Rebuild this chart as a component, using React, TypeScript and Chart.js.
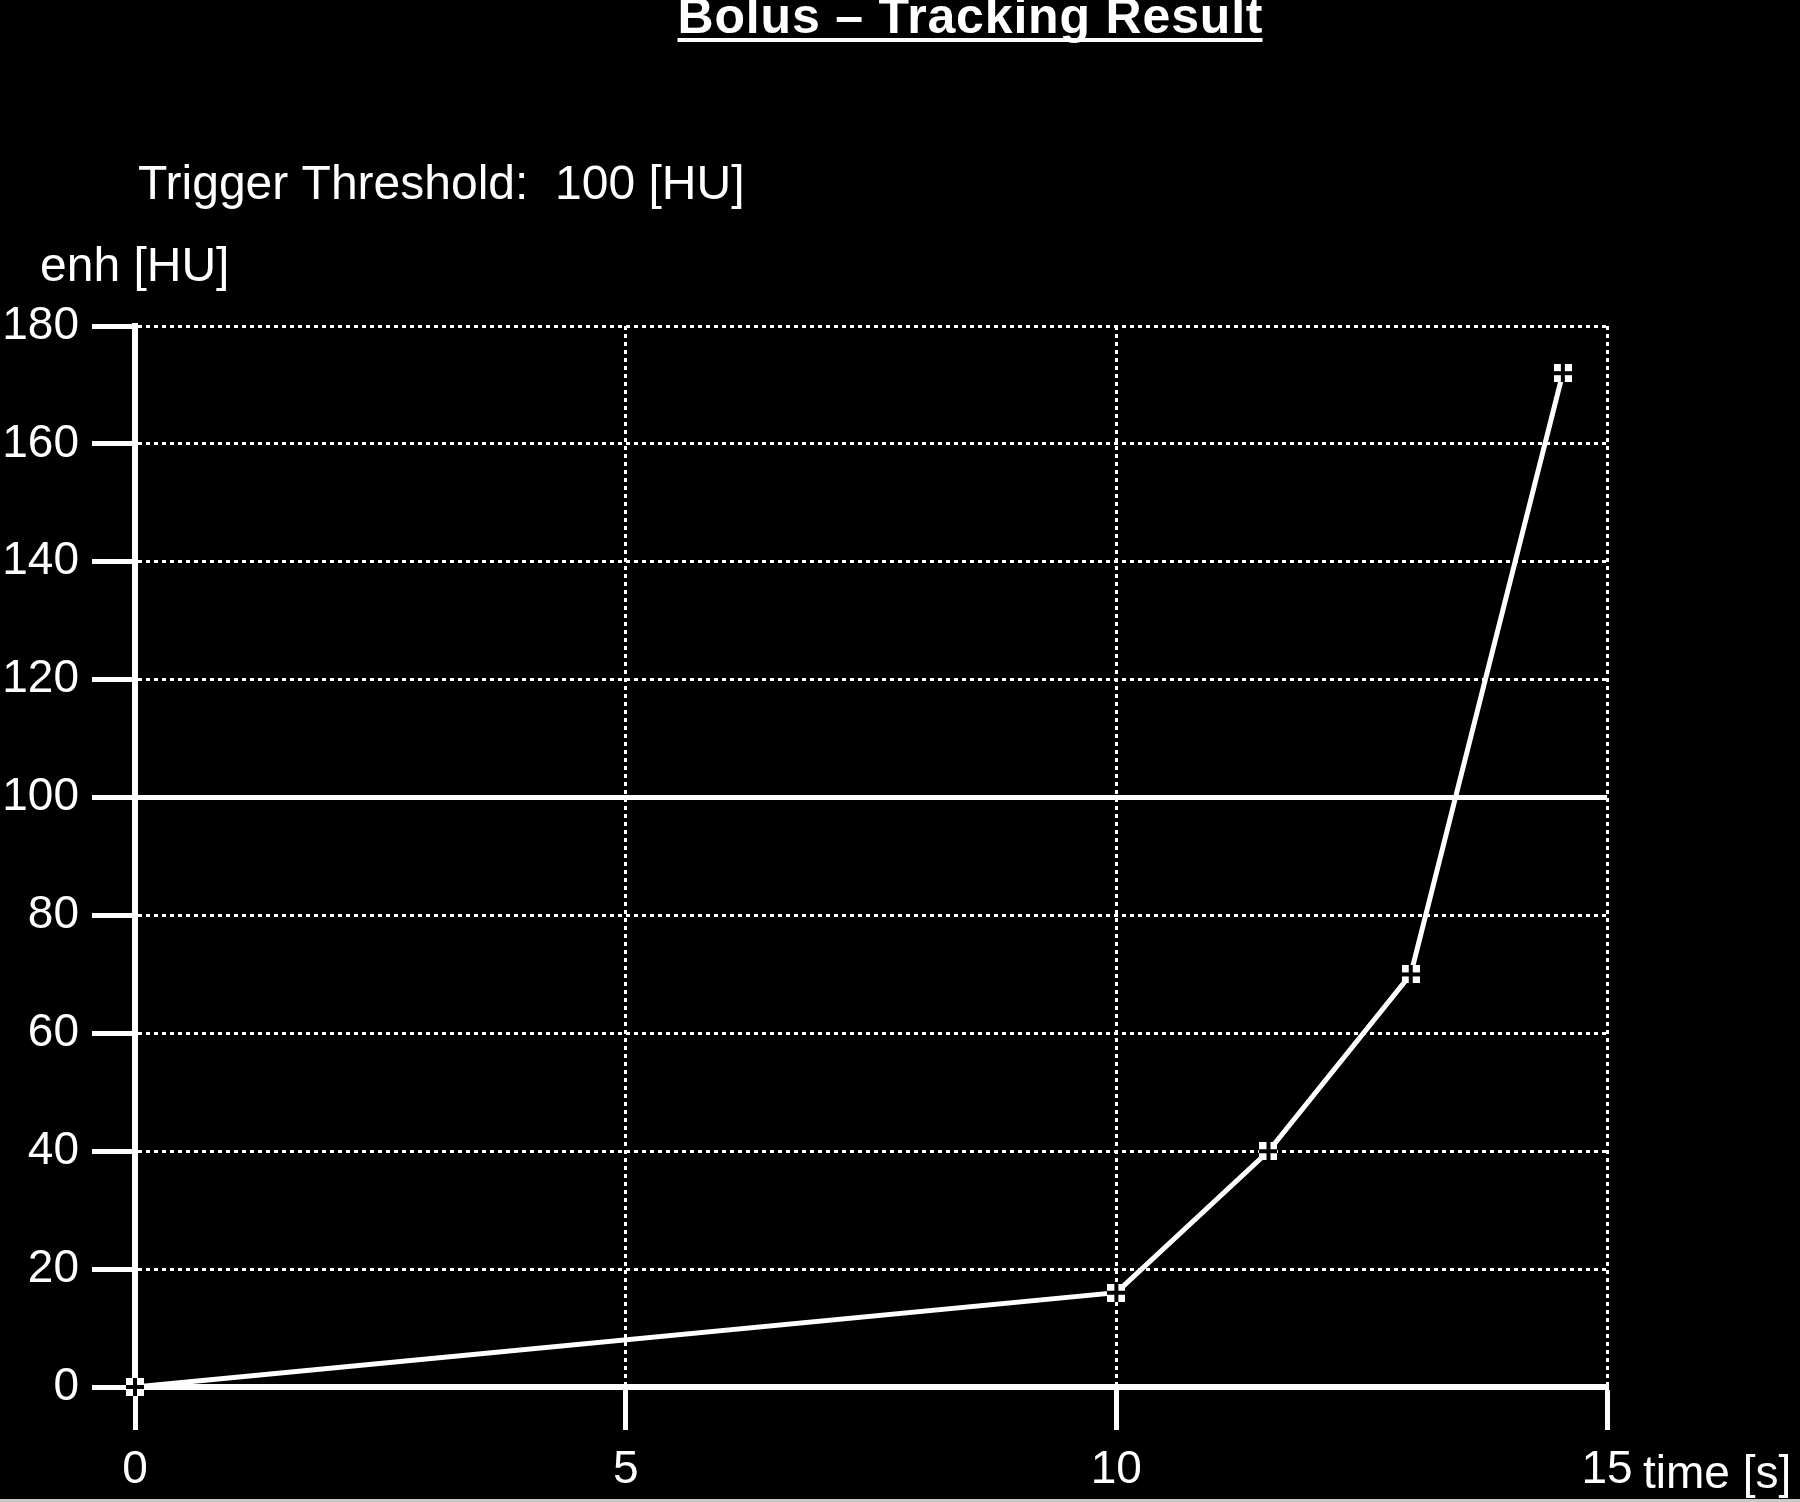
import React, { useEffect, useRef } from "react";
import { Chart, registerables } from "chart.js";

Chart.register(...registerables);

// ---- data ----
const timeSeconds = [0, 10, 11.55, 13, 14.55];
const enhancementHU = [0, 16, 40, 70, 172];
const thresholdHU = 100;
const thresholdTimeSpan = [0, 15];
const xTickValues = [0, 5, 10, 15];
const yTickValues = [0, 20, 40, 60, 80, 100, 120, 140, 160, 180];

// ---- texts ----
const titleText = "Bolus \u2013 Tracking Result";
const thresholdText = "Trigger Threshold:  100 [HU]";
const yAxisText = "enh [HU]";
const xAxisText = "time [s]";

const FONT = "'Liberation Sans', Arial, Helvetica, sans-serif";

function makeMarker(): HTMLCanvasElement {
  const c = document.createElement("canvas");
  c.width = 18;
  c.height = 18;
  const g = c.getContext("2d")!;
  g.fillStyle = "#ffffff";
  g.fillRect(0, 0, 18, 18);
  g.fillStyle = "#000000";
  g.fillRect(7, 0, 4, 18);
  g.fillRect(0, 7, 18, 4);
  return c;
}

const decorPlugin = {
  id: "decor",
  beforeDraw(chart: any) {
    const ctx = chart.ctx as CanvasRenderingContext2D;
    ctx.save();
    ctx.fillStyle = "#000000";
    ctx.fillRect(0, 0, chart.width, chart.height);
    ctx.restore();
  },
  afterDraw(chart: any) {
    const ctx = chart.ctx as CanvasRenderingContext2D;
    ctx.save();
    ctx.fillStyle = "#ffffff";
    ctx.textBaseline = "alphabetic";
    ctx.textAlign = "left";

    // title
    ctx.font = `bold 50px ${FONT}`;
    const targetW = 585;
    const w = ctx.measureText(titleText).width;
    const n = Array.from(titleText).length;
    const spacing = (targetW - w) / (n - 1);
    (ctx as any).letterSpacing = `${spacing}px`;
    const titleX = 970 - targetW / 2;
    ctx.fillText(titleText, titleX, 33);
    (ctx as any).letterSpacing = "0px";
    ctx.fillRect(titleX, 38, targetW, 4);

    // threshold text
    ctx.font = `48px ${FONT}`;
    ctx.fillText(thresholdText, 138, 199);

    // y axis label
    ctx.fillText(yAxisText, 40, 281);

    // x axis label next to last tick
    const xs = chart.scales.x;
    ctx.font = `46px ${FONT}`;
    ctx.fillText(xAxisText, xs.getPixelForValue(15) + 36, 1488);

    // bottom gray line
    ctx.fillStyle = "#c8c8c8";
    ctx.fillRect(0, chart.height - 3, chart.width, 3);
    ctx.restore();
  },
};

export default function App() {
  const canvasRef = useRef<HTMLCanvasElement | null>(null);

  useEffect(() => {
    document.body.style.margin = "0";
    document.body.style.background = "#000";
    const canvas = canvasRef.current;
    if (!canvas) return;
    const marker = makeMarker();

    const curve = timeSeconds.map((t, i) => ({ x: t, y: enhancementHU[i] }));
    const threshold = thresholdTimeSpan.map((t) => ({ x: t, y: thresholdHU }));

    const chart = new Chart(canvas, {
      type: "line",
      data: {
        datasets: [
          {
            label: "enh",
            data: curve,
            borderColor: "#ffffff",
            borderWidth: 5,
            tension: 0,
            pointStyle: marker as any,
            pointRadius: 9,
            pointHoverRadius: 9,
            fill: false,
            clip: false,
          } as any,
          {
            label: "threshold",
            data: threshold,
            borderColor: "#ffffff",
            borderWidth: 5,
            pointRadius: 0,
            pointHoverRadius: 0,
            tension: 0,
            fill: false,
            clip: false,
          } as any,
        ],
      },
      options: {
        animation: false,
        responsive: true,
        maintainAspectRatio: false,
        events: [],
        layout: { padding: { top: 326, right: 193, left: 0, bottom: 0 } },
        plugins: {
          legend: { display: false },
          title: { display: false },
          tooltip: { enabled: false },
        },
        scales: {
          x: {
            type: "linear",
            min: 0,
            max: 15,
            afterFit(scale: any) {
              scale.height = 115;
            },
            afterBuildTicks(scale: any) {
              scale.ticks = xTickValues.map((v) => ({ value: v }));
            },
            ticks: {
              color: "#ffffff",
              font: { family: FONT, size: 46 },
              padding: 13,
              maxRotation: 0,
              autoSkip: false,
              callback: (v: any) => String(v),
            },
            grid: {
              color: "#ffffff",
              lineWidth: 3,
              drawTicks: true,
              tickLength: 43,
              tickWidth: 5,
              tickColor: "#ffffff",
            },
            border: { display: true, color: "#ffffff", width: 6, dash: [4, 4] },
          },
          y: {
            type: "linear",
            min: 0,
            max: 180,
            afterFit(scale: any) {
              scale.width = 135;
            },
            afterBuildTicks(scale: any) {
              scale.ticks = yTickValues.map((v) => ({ value: v }));
            },
            ticks: {
              color: "#ffffff",
              font: { family: FONT, size: 46 },
              padding: 13,
              autoSkip: false,
              callback: (v: any) => String(v),
            },
            grid: {
              color: "#ffffff",
              lineWidth: 3,
              drawTicks: true,
              tickLength: 43,
              tickWidth: 5,
              tickColor: "#ffffff",
            },
            border: { display: true, color: "#ffffff", width: 6, dash: [4, 4] },
          },
        },
      },
      plugins: [decorPlugin],
    });

    return () => {
      chart.destroy();
    };
  }, []);

  return (
    <div style={{ position: "relative", width: "1800px", height: "1502px", background: "#000" }}>
      <canvas ref={canvasRef} />
    </div>
  );
}
